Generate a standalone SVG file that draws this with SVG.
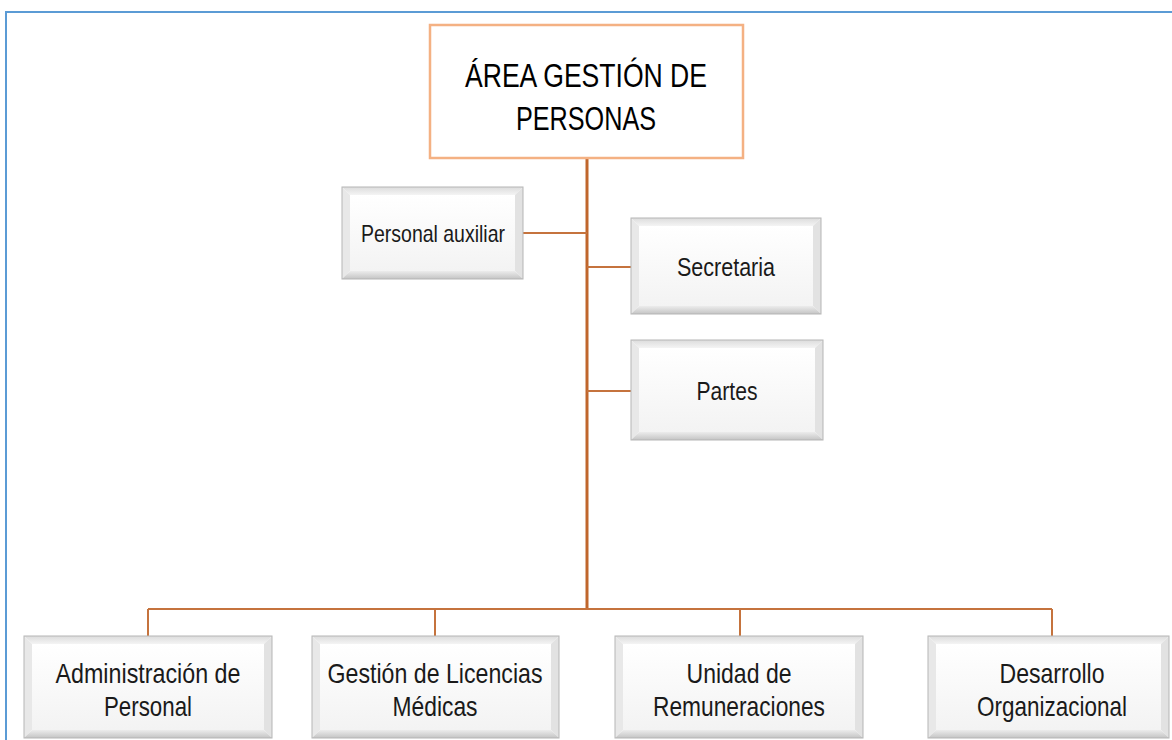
<svg xmlns="http://www.w3.org/2000/svg" width="1172" height="740" viewBox="0 0 1172 740">
  <defs>
    <linearGradient id="face" x1="0" y1="0" x2="0" y2="1">
      <stop offset="0" stop-color="#ffffff"/>
      <stop offset="1" stop-color="#f3f3f3"/>
    </linearGradient>
    <linearGradient id="bevT" x1="0" y1="0" x2="0" y2="1">
      <stop offset="0" stop-color="#dcdcdc"/>
      <stop offset="1" stop-color="#f4f4f4"/>
    </linearGradient>
    <linearGradient id="bevB" x1="0" y1="0" x2="0" y2="1">
      <stop offset="0" stop-color="#ececec"/>
      <stop offset="1" stop-color="#c4c4c4"/>
    </linearGradient>
    <style>
      .frame { fill: none; stroke: #5b9bd5; stroke-width: 2; }
      .conn { fill: none; stroke: #c5733d; stroke-width: 2; }
      .main { fill: none; stroke: #c0662c; stroke-width: 3; }
      .top { fill: #ffffff; stroke: #f4b183; stroke-width: 2.5; }
      .bt { fill: url(#bevT); }
      .bl { fill: #e8e8e8; }
      .br { fill: #e2e2e2; }
      .bb { fill: url(#bevB); }
      .face { fill: url(#face); }
      .edge { fill: none; stroke: #b5b5b5; stroke-width: 1; }
      text { font-family: "Liberation Sans", Arial, sans-serif; fill: #1a1a1a; text-anchor: middle; }
      .t1 { font-size: 34px; fill: #000; }
      .t2 { font-size: 24px; }
      .t3 { font-size: 26px; }
      .t4 { font-size: 28px; }
    </style>
  </defs>
  <rect width="1172" height="740" fill="#ffffff"/>
  <rect class="frame" x="6" y="12" width="1200" height="800"/>

  <g id="connectors">
    <path class="main" d="M587 158 V609"/>
    <path class="conn" d="M523 233 H587"/>
    <path class="conn" d="M587 267 H631"/>
    <path class="conn" d="M587 391 H631"/>
    <path class="conn" d="M148 609 H1052"/>
    <path class="conn" d="M148 609 V636 M435 609 V636 M740 609 V636 M1052 609 V636"/>
  </g>

  <g id="node-area">
    <rect class="top" x="430" y="25" width="313" height="133"/>
    <text class="t1" x="586" y="87" textLength="242" lengthAdjust="spacingAndGlyphs">ÁREA GESTIÓN DE</text>
    <text class="t1" x="586" y="130" textLength="140" lengthAdjust="spacingAndGlyphs">PERSONAS</text>
  </g>

  <g id="node-personal-auxiliar">
    <polygon class="bt" points="342,187 523,187 515,195 350,195"/>
    <polygon class="bl" points="342,187 350,195 350,271 342,279"/>
    <polygon class="br" points="523,187 523,279 515,271 515,195"/>
    <polygon class="bb" points="342,279 350,271 515,271 523,279"/>
    <rect class="face" x="350" y="195" width="165" height="76"/>
    <rect class="edge" x="342" y="187" width="181" height="92"/>
    <text class="t2" x="433" y="242" textLength="144" lengthAdjust="spacingAndGlyphs">Personal auxiliar</text>
  </g>

  <g id="node-secretaria">
    <polygon class="bt" points="631,218 821,218 813,226 639,226"/>
    <polygon class="bl" points="631,218 639,226 639,306 631,314"/>
    <polygon class="br" points="821,218 821,314 813,306 813,226"/>
    <polygon class="bb" points="631,314 639,306 813,306 821,314"/>
    <rect class="face" x="639" y="226" width="174" height="80"/>
    <rect class="edge" x="631" y="218" width="190" height="96"/>
    <text class="t3" x="726" y="276" textLength="98" lengthAdjust="spacingAndGlyphs">Secretaria</text>
  </g>

  <g id="node-partes">
    <polygon class="bt" points="631,340 823,340 815,348 639,348"/>
    <polygon class="bl" points="631,340 639,348 639,432 631,440"/>
    <polygon class="br" points="823,340 823,440 815,432 815,348"/>
    <polygon class="bb" points="631,440 639,432 815,432 823,440"/>
    <rect class="face" x="639" y="348" width="176" height="84"/>
    <rect class="edge" x="631" y="340" width="192" height="100"/>
    <text class="t3" x="727" y="400" textLength="61" lengthAdjust="spacingAndGlyphs">Partes</text>
  </g>

  <g id="node-administracion">
    <polygon class="bt" points="24,636 272,636 264,644 32,644"/>
    <polygon class="bl" points="24,636 32,644 32,730 24,738"/>
    <polygon class="br" points="272,636 272,738 264,730 264,644"/>
    <polygon class="bb" points="24,738 32,730 264,730 272,738"/>
    <rect class="face" x="32" y="644" width="232" height="86"/>
    <rect class="edge" x="24" y="636" width="248" height="102"/>
    <text class="t4" x="148" y="683" textLength="185" lengthAdjust="spacingAndGlyphs">Administración de</text>
    <text class="t4" x="148" y="716" textLength="88" lengthAdjust="spacingAndGlyphs">Personal</text>
  </g>

  <g id="node-licencias">
    <polygon class="bt" points="312,636 559,636 551,644 320,644"/>
    <polygon class="bl" points="312,636 320,644 320,730 312,738"/>
    <polygon class="br" points="559,636 559,738 551,730 551,644"/>
    <polygon class="bb" points="312,738 320,730 551,730 559,738"/>
    <rect class="face" x="320" y="644" width="231" height="86"/>
    <rect class="edge" x="312" y="636" width="247" height="102"/>
    <text class="t4" x="435" y="683" textLength="215" lengthAdjust="spacingAndGlyphs">Gestión de Licencias</text>
    <text class="t4" x="435" y="716" textLength="85" lengthAdjust="spacingAndGlyphs">Médicas</text>
  </g>

  <g id="node-remuneraciones">
    <polygon class="bt" points="615,636 863,636 855,644 623,644"/>
    <polygon class="bl" points="615,636 623,644 623,730 615,738"/>
    <polygon class="br" points="863,636 863,738 855,730 855,644"/>
    <polygon class="bb" points="615,738 623,730 855,730 863,738"/>
    <rect class="face" x="623" y="644" width="232" height="86"/>
    <rect class="edge" x="615" y="636" width="248" height="102"/>
    <text class="t4" x="739" y="683" textLength="105" lengthAdjust="spacingAndGlyphs">Unidad de</text>
    <text class="t4" x="739" y="716" textLength="172" lengthAdjust="spacingAndGlyphs">Remuneraciones</text>
  </g>

  <g id="node-desarrollo">
    <polygon class="bt" points="928,636 1169,636 1161,644 936,644"/>
    <polygon class="bl" points="928,636 936,644 936,730 928,738"/>
    <polygon class="br" points="1169,636 1169,738 1161,730 1161,644"/>
    <polygon class="bb" points="928,738 936,730 1161,730 1169,738"/>
    <rect class="face" x="936" y="644" width="225" height="86"/>
    <rect class="edge" x="928" y="636" width="241" height="102"/>
    <text class="t4" x="1052" y="683" textLength="105" lengthAdjust="spacingAndGlyphs">Desarrollo</text>
    <text class="t4" x="1052" y="716" textLength="150" lengthAdjust="spacingAndGlyphs">Organizacional</text>
  </g>
</svg>
